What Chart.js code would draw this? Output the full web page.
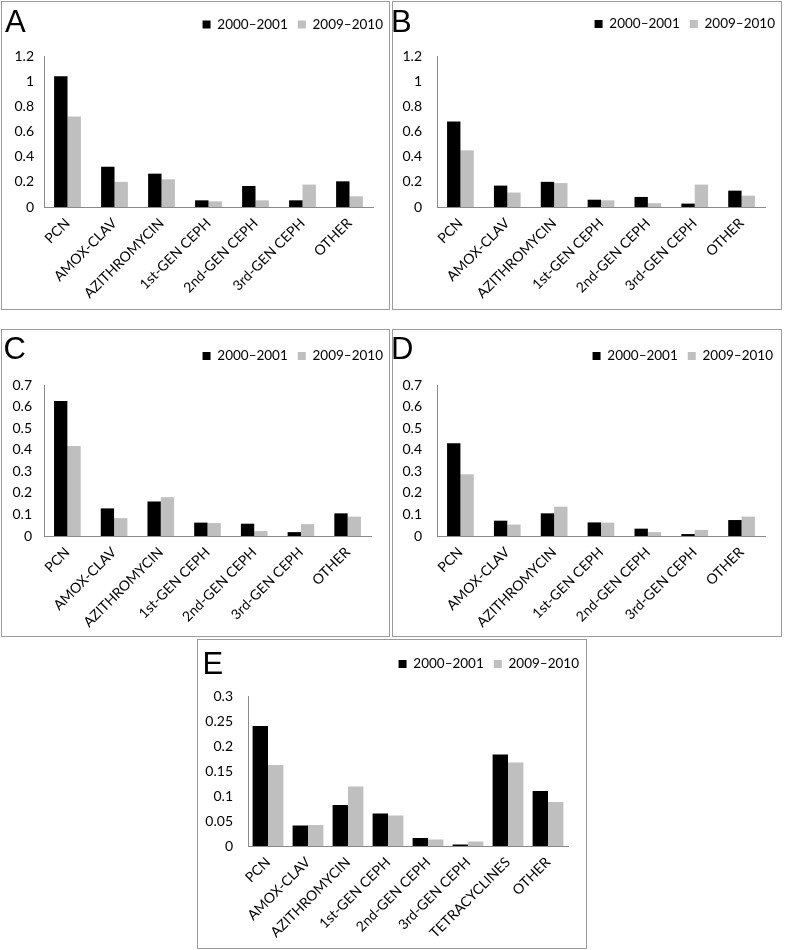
<!DOCTYPE html>
<html>
<head>
<meta charset="utf-8">
<script src="https://cdn.jsdelivr.net/npm/chart.js@4.4.1/dist/chart.umd.min.js"></script>
<style>
  body { margin: 0; background: #fff; width: 785px; height: 950px; position: relative; overflow: hidden; }
  .panel { position: absolute; border: 1px solid #9c9c9c; box-sizing: border-box; }
  .letter { position: absolute; font-family: "Liberation Sans", Arial, sans-serif; font-size: 31px; line-height: 1; color: #000; }
  canvas { position: absolute; }
</style>
</head>
<body>
<script>
// ============================================================================
// Daten
// ============================================================================
const seriesNames = ["2000–2001", "2009–2010"];

const drugs7 = ["PCN", "AMOX-CLAV", "AZITHROMYCIN", "1st-GEN CEPH", "2nd-GEN CEPH", "3rd-GEN CEPH", "OTHER"];
const drugs8 = ["PCN", "AMOX-CLAV", "AZITHROMYCIN", "1st-GEN CEPH", "2nd-GEN CEPH", "3rd-GEN CEPH", "TETRACYCLINES", "OTHER"];

const aOld = [1.04, 0.32, 0.265, 0.053, 0.167, 0.053, 0.204];
const aNew = [0.72, 0.20, 0.22, 0.045, 0.053, 0.178, 0.085];

const bOld = [0.68, 0.17, 0.20, 0.058, 0.08, 0.027, 0.13];
const bNew = [0.45, 0.115, 0.19, 0.053, 0.03, 0.178, 0.09];

const cOld = [0.626, 0.128, 0.16, 0.062, 0.057, 0.018, 0.105];
const cNew = [0.417, 0.083, 0.18, 0.06, 0.023, 0.055, 0.09];

const dOld = [0.43, 0.071, 0.105, 0.063, 0.034, 0.009, 0.074];
const dNew = [0.286, 0.053, 0.136, 0.062, 0.018, 0.028, 0.09];

const eOld = [0.24, 0.041, 0.082, 0.065, 0.016, 0.003, 0.183, 0.11];
const eNew = [0.162, 0.042, 0.119, 0.061, 0.013, 0.009, 0.167, 0.088];

// y-Ticks (Werte + Beschriftung, aufsteigend)
const ticksBig = [0, 0.2, 0.4, 0.6, 0.8, 1, 1.2];
const labelsBig = ["0", "0.2", "0.4", "0.6", "0.8", "1", "1.2"];
const ticksMid = [0, 0.1, 0.2, 0.3, 0.4, 0.5, 0.6, 0.7];
const labelsMid = ["0", "0.1", "0.2", "0.3", "0.4", "0.5", "0.6", "0.7"];
const ticksSmall = [0, 0.05, 0.1, 0.15, 0.2, 0.25, 0.3];
const labelsSmall = ["0", "0.05", "0.1", "0.15", "0.2", "0.25", "0.3"];

const BLACK = "#000000";
const GRAY = "#bfbfbf";
const AXIS = "#8a8a8a";
const TEXT = "#000";
const FONT = "Lato";
const FSL = 13.5;   // Legende
const FSY = 14;     // y-Ticks
const FSX = 14;     // x-Beschriftung
const LPAD = 10;    // Abstand Legendeneinträge

// ============================================================================
// Legende nach unten verlängern (Abstand zur Plotfläche)
// ============================================================================
const legendGap = {
    id: "legendGap",
    beforeInit(chart, args, opts) {
        const fit = chart.legend.fit;
        chart.legend.fit = function () {
            fit.call(this);
            this.height += opts.gap;
        };
    }
};

// ============================================================================
// Ein Panel bauen
// box = Rahmen (Seitenkoordinaten), plot = Plotfläche
// ============================================================================
function makePanel(letter, box, plot, legend, labels, oldVals, newVals, ticks, tickLabels, catPct, tickPad, letterPos) {

    const frame = document.createElement("div");
    frame.className = "panel";
    frame.style.left = box.x1 + "px";
    frame.style.top = box.y1 + "px";
    frame.style.width = (box.x2 - box.x1 + 1) + "px";
    frame.style.height = (box.y2 - box.y1 + 1) + "px";
    document.body.appendChild(frame);

    const cl = box.x1 + 1;
    const ct = box.y1 + 1;
    const cr = legend.end + LPAD;
    const cb = box.y2;

    const c = document.createElement("canvas");
    c.width = cr - cl;
    c.height = cb - ct;
    c.style.left = cl + "px";
    c.style.top = ct + "px";
    c.style.width = (cr - cl) + "px";
    c.style.height = (cb - ct) + "px";
    document.body.appendChild(c);

    const lt = document.createElement("div");
    lt.className = "letter";
    lt.textContent = letter;
    lt.style.left = letterPos[0] + "px";
    lt.style.top = letterPos[1] + "px";
    document.body.appendChild(lt);

    const padTop = legend.cy - FSL / 2 - LPAD - ct;
    const gap = plot.t - (ct + padTop + FSL + LPAD + 10);

    new Chart(c, {
        type: "bar",
        data: {
            labels: labels,
            datasets: [
                { label: seriesNames[0], data: oldVals, backgroundColor: BLACK, borderWidth: 0 },
                { label: seriesNames[1], data: newVals, backgroundColor: GRAY, borderWidth: 0 }
            ]
        },
        options: {
            responsive: false,
            animation: false,
            devicePixelRatio: 1,
            layout: { padding: { left: 0, right: 0, top: padTop, bottom: 0 } },
            datasets: { bar: { categoryPercentage: catPct, barPercentage: 1 } },
            plugins: {
                legendGap: { gap: gap },
                tooltip: { enabled: false },
                legend: {
                    position: "top",
                    align: "end",
                    labels: {
                        boxWidth: 8, boxHeight: 8, padding: LPAD,
                        color: TEXT,
                        font: { family: FONT, size: FSL }
                    }
                }
            },
            scales: {
                x: {
                    grid: { display: false, drawTicks: false },
                    border: { display: true, color: AXIS, width: 1 },
                    ticks: {
                        autoSkip: false, minRotation: 45, maxRotation: 45, padding: 8,
                        color: TEXT, font: { family: FONT, size: FSX }
                    },
                    afterFit: s => { s.height = cb - plot.b; }
                },
                y: {
                    min: 0,
                    max: ticks[ticks.length - 1],
                    grid: { display: false, drawTicks: false },
                    border: { display: true, color: AXIS, width: 1 },
                    ticks: {
                        padding: tickPad,
                        color: TEXT, font: { family: FONT, size: FSY },
                        callback: (v, i) => tickLabels[i]
                    },
                    afterBuildTicks: s => { s.ticks = ticks.map(v => ({ value: v })); },
                    afterFit: s => { s.width = plot.l - cl; }
                },
                rechts: {
                    position: "right",
                    grid: { display: false },
                    border: { display: false },
                    ticks: { display: false },
                    afterFit: s => { s.width = cr - plot.r; }
                }
            }
        },
        plugins: [legendGap]
    });
}

// ============================================================================
// Alle fünf Panels
// ============================================================================
makePanel("A", { x1: 1, y1: 1, x2: 389, y2: 309 }, { l: 44, r: 373, t: 56, b: 207 },
    { cy: 24.5, end: 383 }, drugs7, aOld, aNew, ticksBig, labelsBig, 0.57, 10, [5, 6]);

makePanel("B", { x1: 392, y1: 1, x2: 781, y2: 309 }, { l: 437, r: 765, t: 56, b: 207 },
    { cy: 24, end: 775 }, drugs7, bOld, bNew, ticksBig, labelsBig, 0.57, 15, [391, 6]);

makePanel("C", { x1: 1, y1: 329, x2: 389, y2: 636 }, { l: 44, r: 371, t: 385, b: 536 },
    { cy: 356, end: 383 }, drugs7, cOld, cNew, ticksMid, labelsMid, 0.57, 12, [3.5, 333]);

makePanel("D", { x1: 392, y1: 329, x2: 781, y2: 636 }, { l: 437, r: 765, t: 385, b: 536 },
    { cy: 356, end: 773 }, drugs7, dOld, dNew, ticksMid, labelsMid, 0.57, 15, [391, 333]);

makePanel("E", { x1: 197, y1: 639, x2: 586, y2: 948 }, { l: 248, r: 568, t: 696, b: 846 },
    { cy: 664, end: 579 }, drugs8, eOld, eNew, ticksSmall, labelsSmall, 0.77, 15, [202.5, 648]);
</script>
</body>
</html>
